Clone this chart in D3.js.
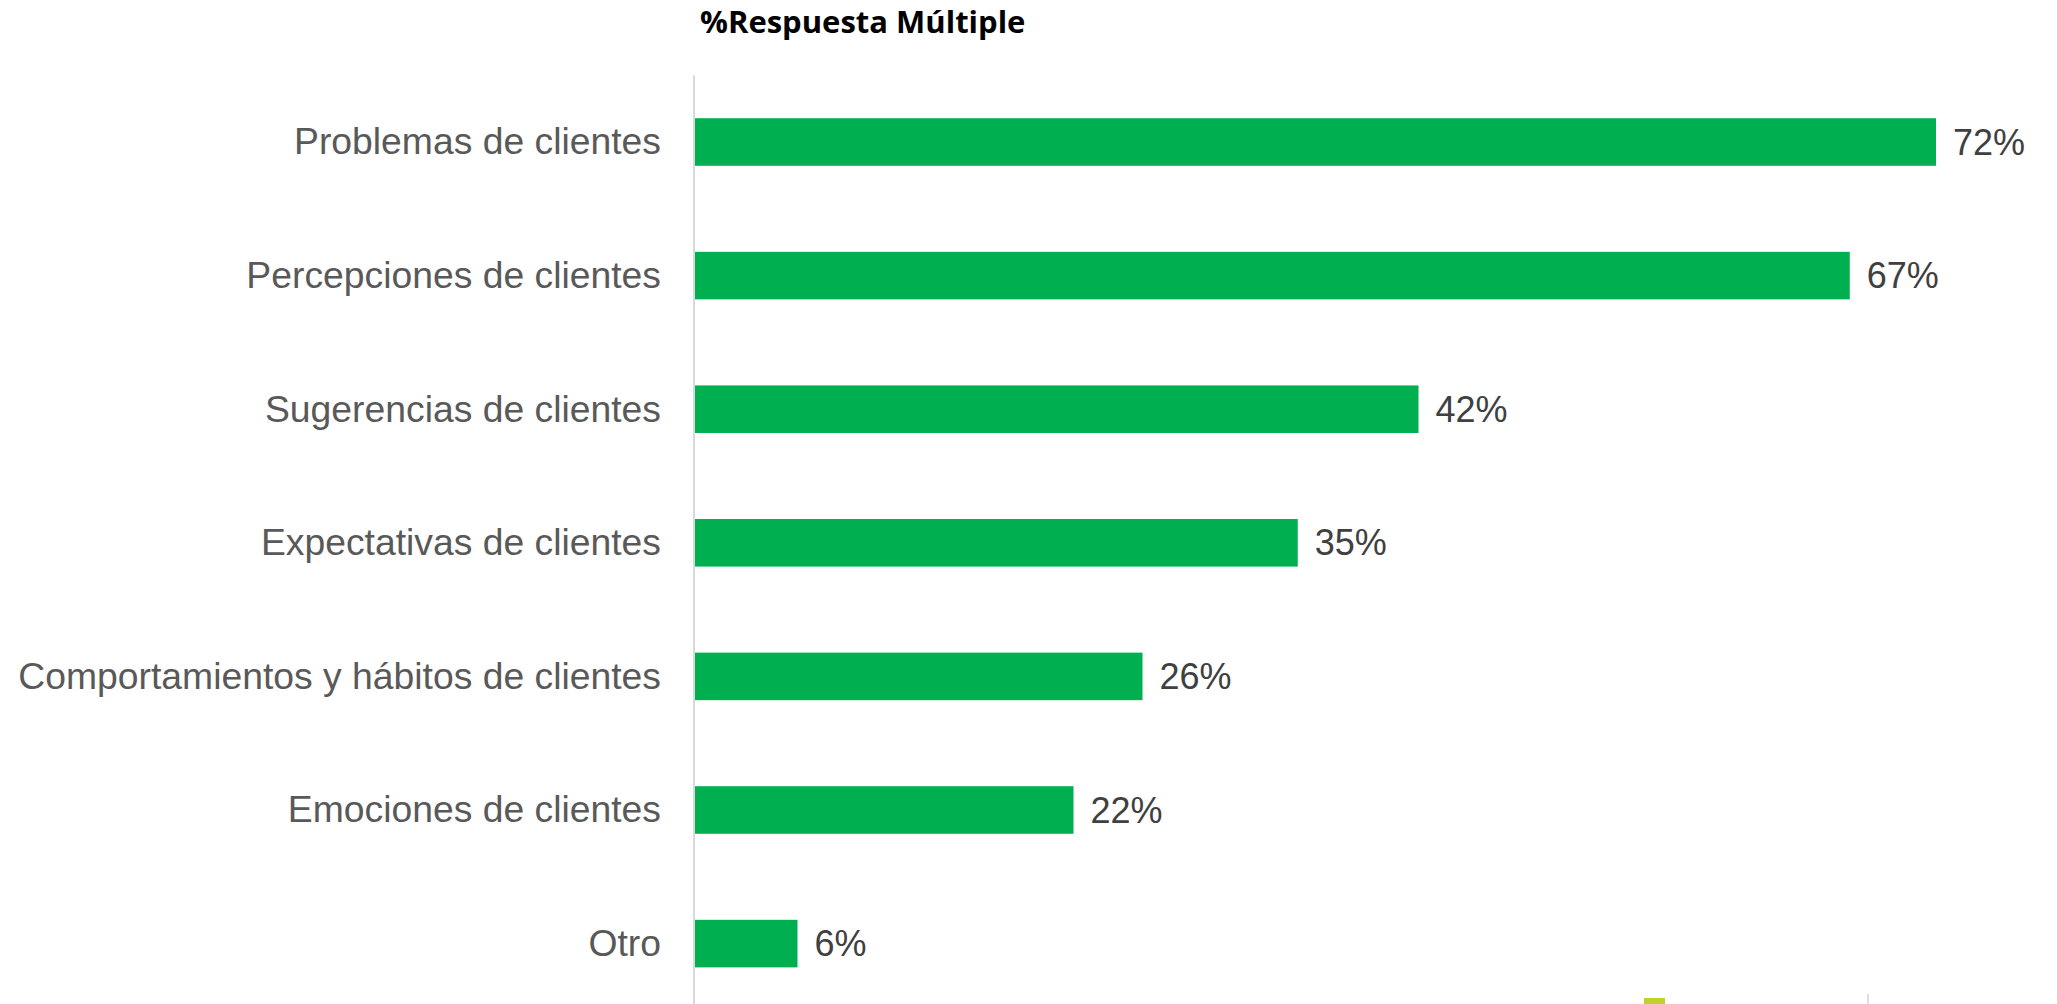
<!DOCTYPE html>
<html>
<head>
<meta charset="utf-8">
<script src="https://cdn.jsdelivr.net/npm/d3@7"></script>
<style>
  html, body { margin: 0; padding: 0; background: #ffffff; }
  svg { display: block; }
</style>
</head>
<body>
<script>
// Survey answers (multiple response), in percent
const categories = [
  "Problemas de clientes",
  "Percepciones de clientes",
  "Sugerencias de clientes",
  "Expectativas de clientes",
  "Comportamientos y hábitos de clientes",
  "Emociones de clientes",
  "Otro"
];
const values = [72, 67, 42, 35, 26, 22, 6];
const titleText = "%Respuesta Múltiple";

const W = 2057, H = 1004;
const axisX = 694;
const pxPerPct = 17.25;

const svg = d3.select("body").append("svg")
  .attr("width", W).attr("height", H);

const x = d3.scaleLinear()
  .domain([0, d3.max(values)])
  .range([axisX, axisX + d3.max(values) * pxPerPct]);

const y = d3.scaleBand()
  .domain(categories)
  .range([75.2, 75.2 + 133.6 * categories.length])
  .paddingInner(0.644)
  .paddingOuter(0.322);

const rows = categories.map((c, i) => ({ cat: c, val: values[i] }));

// title
svg.append("text")
  .attr("x", 700).attr("y", 33)
  .attr("font-family", "'Open Sans', sans-serif")
  .attr("font-weight", 700)
  .attr("font-size", 31)
  .attr("fill", "#000000")
  .text(titleText);

// bars
svg.append("g").selectAll("rect")
  .data(rows)
  .join("rect")
  .attr("x", x(0))
  .attr("y", d => y(d.cat))
  .attr("width", d => x(d.val) - x(0))
  .attr("height", y.bandwidth())
  .attr("fill", "#00b050");

// vertical category axis
const yAxis = d3.axisLeft(y).tickSize(0).tickPadding(33);
const gy = svg.append("g")
  .attr("transform", `translate(${axisX},0)`)
  .call(yAxis);
gy.select(".domain")
  .attr("stroke", "#d9d9d9")
  .attr("stroke-width", 2)
  .attr("d", `M0,${y.range()[0]}V${y.range()[1]}`);
gy.selectAll(".tick text")
  .attr("font-family", "'Liberation Sans', Arial, sans-serif")
  .attr("font-size", 37.3)
  .attr("fill", "#595959")
  .attr("dy", "0.33em");

// value labels
svg.append("g").selectAll("text")
  .data(rows)
  .join("text")
  .attr("x", d => x(d.val) + 17)
  .attr("y", d => y(d.cat) + y.bandwidth() / 2)
  .attr("dy", "0.35em")
  .attr("font-family", "'Liberation Sans', Arial, sans-serif")
  .attr("font-size", 36)
  .attr("fill", "#404040")
  .text(d => d.val + "%");

// footer mark at the bottom edge
svg.append("rect")
  .attr("x", 1644).attr("y", 998)
  .attr("width", 21).attr("height", 8)
  .attr("fill", "#c2d12a");
svg.append("line")
  .attr("x1", 1868).attr("x2", 1868)
  .attr("y1", 994).attr("y2", 1004)
  .attr("stroke", "#bfbfbf").attr("stroke-width", 1);
</script>
</body>
</html>
